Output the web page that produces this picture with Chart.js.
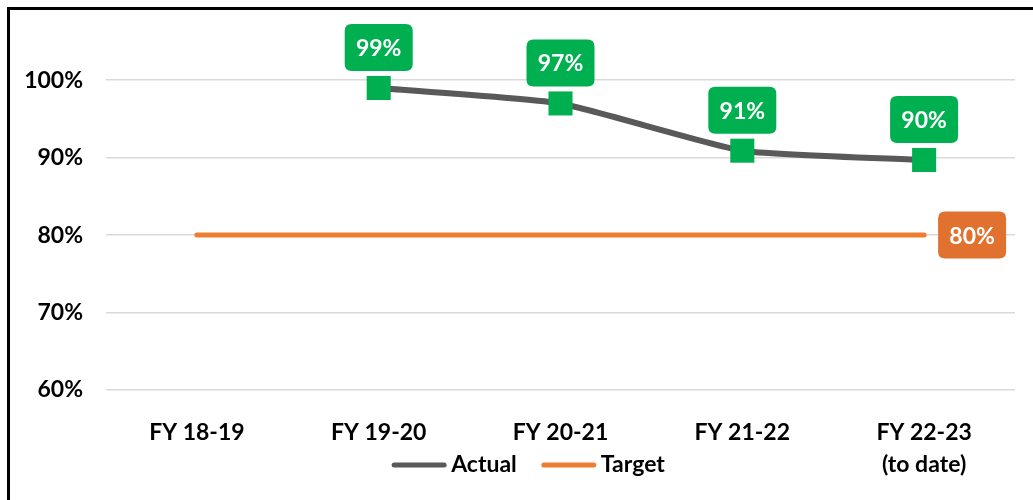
<!DOCTYPE html>
<html>
<head>
<meta charset="utf-8">
<script src="https://cdn.jsdelivr.net/npm/chart.js@4"></script>
<style>
  body { margin: 0; background: #fff; overflow: hidden; }
  #wrap { position: relative; width: 1033px; height: 500px; }
  #frame { position: absolute; left: 7px; top: 7px; width: 1100px; height: 600px;
           border: 3px solid #000; box-sizing: border-box; pointer-events: none; }
</style>
</head>
<body>
<div id="wrap">
  <canvas id="c" width="1033" height="500"></canvas>
  <div id="frame"></div>
</div>
<script>
// data
var categories = ['FY 18-19', 'FY 19-20', 'FY 20-21', 'FY 21-22', ['FY 22-23', '(to date)']];
var actual = [null, 0.99, 0.97, 0.909, 0.897];
var target = [0.8, 0.8, 0.8, 0.8, 0.8];
var actualLabels = [null, '99%', '97%', '91%', '90%'];
var targetLabel = '80%';

var FONT = 'Lato, "Open Sans", sans-serif';
var GREEN = '#00B050', ORANGE = '#ED7D31', ORANGE_BOX = '#E0712F', GRAY = '#595959';

function roundRect(ctx, x, y, w, h, r) {
    ctx.beginPath();
    ctx.moveTo(x + r, y);
    ctx.lineTo(x + w - r, y);
    ctx.quadraticCurveTo(x + w, y, x + w, y + r);
    ctx.lineTo(x + w, y + h - r);
    ctx.quadraticCurveTo(x + w, y + h, x + w - r, y + h);
    ctx.lineTo(x + r, y + h);
    ctx.quadraticCurveTo(x, y + h, x, y + h - r);
    ctx.lineTo(x, y + r);
    ctx.quadraticCurveTo(x, y, x + r, y);
    ctx.closePath();
}

function drawBox(ctx, cx, cy, text, color) {
    var w = 68, h = 47;
    roundRect(ctx, cx - w / 2, cy - h / 2, w, h, 7);
    ctx.fillStyle = color;
    ctx.fill();
    ctx.fillStyle = '#fff';
    ctx.font = 'bold 23px ' + FONT;
    ctx.textAlign = 'center';
    ctx.textBaseline = 'middle';
    ctx.fillText(text, cx, cy + 1);
}

// labels over points
var boxLabels = {
    id: 'boxLabels',
    afterDatasetsDraw: function (chart) {
        var ctx = chart.ctx;
        ctx.save();
        chart.getDatasetMeta(0).data.forEach(function (pt, i) {
            if (actual[i] == null) return;
            drawBox(ctx, pt.x, pt.y - 17 - 23.5, actualLabels[i], GREEN);
        });
        var tData = chart.getDatasetMeta(1).data;
        var last = tData[tData.length - 1];
        drawBox(ctx, last.x + 14 + 34, last.y, targetLabel, ORANGE_BOX);
        ctx.restore();
    }
};

// legend, drawn by hand so it sits beside the two-line tick label
var lineLegend = {
    id: 'lineLegend',
    afterDraw: function (chart) {
        var ctx = chart.ctx;
        ctx.save();
        ctx.font = 'bold 23px ' + FONT;
        var items = chart.data.datasets.map(function (ds) {
            return { text: ds.label, color: ds.borderColor, w: 56 + 4 + ctx.measureText(ds.label).width };
        });
        var gap = 24;
        var total = items.reduce(function (s, it) { return s + it.w; }, 0) + gap * (items.length - 1);
        var x = 528 - total / 2, y = 465;
        items.forEach(function (it) {
            ctx.strokeStyle = it.color;
            ctx.lineWidth = 5;
            ctx.lineCap = 'round';
            ctx.beginPath();
            ctx.moveTo(x + 3, y);
            ctx.lineTo(x + 53, y);
            ctx.stroke();
            ctx.fillStyle = '#000';
            ctx.textAlign = 'left';
            ctx.textBaseline = 'middle';
            ctx.fillText(it.text, x + 60, y);
            x += it.w + gap;
        });
        ctx.restore();
    }
};

new Chart(document.getElementById('c'), {
    type: 'line',
    data: {
        labels: categories,
        datasets: [{
            label: 'Actual',
            data: actual,
            borderColor: GRAY,
            borderWidth: 6,
            pointStyle: 'rect',
            pointRadius: 17,
            pointHoverRadius: 17,
            pointBackgroundColor: GREEN,
            pointBorderWidth: 0,
            tension: 0.15,
            order: 0
        }, {
            label: 'Target',
            data: target,
            borderColor: ORANGE,
            borderWidth: 5,
            borderCapStyle: 'round',
            pointRadius: 0,
            order: 1
        }]
    },
    options: {
        responsive: false,
        animation: false,
        layout: { autoPadding: false, padding: { top: 26, right: 18, left: 0, bottom: 0 } },
        plugins: { legend: { display: false }, tooltip: { enabled: false } },
        scales: {
            x: {
                offset: true,
                grid: { display: false },
                border: { display: false },
                ticks: {
                    color: '#000',
                    padding: 18,
                    font: { family: FONT, size: 23, weight: 'bold', lineHeight: 1.4 },
                    maxRotation: 0
                },
                afterFit: function (scale) { scale.height = 110; }
            },
            y: {
                min: 0.6,
                max: 1.07,
                border: { display: false },
                grid: { color: '#D9D9D9', lineWidth: 1.5, drawTicks: false },
                ticks: {
                    stepSize: 0.1,
                    color: '#000',
                    padding: 23,
                    font: { family: FONT, size: 23, weight: 'bold' },
                    callback: function (v) { return Math.round(v * 100) + '%'; }
                },
                afterBuildTicks: function (scale) {
                    scale.ticks = scale.ticks.filter(function (t) { return t.value <= 1.0001; });
                },
                afterFit: function (scale) {
                    scale.width = 106;
                    scale.paddingTop = 0;
                    scale.paddingBottom = 0;
                }
            }
        }
    },
    plugins: [boxLabels, lineLegend]
});
</script>
</body>
</html>
